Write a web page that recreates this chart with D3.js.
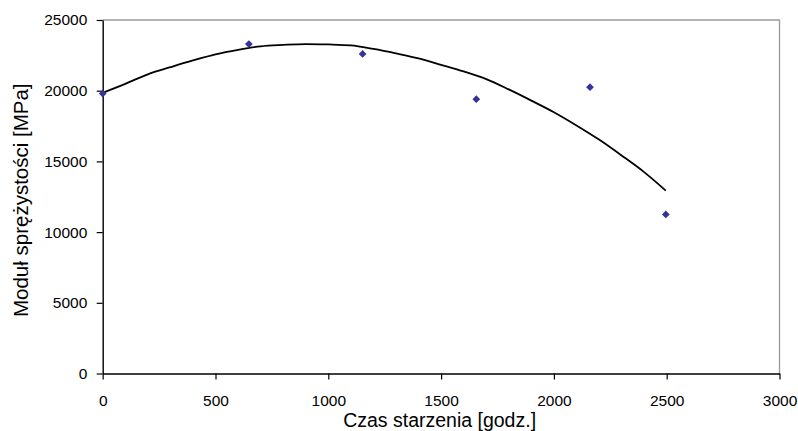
<!DOCTYPE html>
<html>
<head>
<meta charset="utf-8">
<script src="https://cdn.jsdelivr.net/npm/d3@7"></script>
<style>
  html, body { margin: 0; padding: 0; background: #fff; }
  svg text { font-family: "Liberation Sans", Arial, sans-serif; fill: #000; }
</style>
</head>
<body>
<svg id="chart" width="798" height="431"></svg>
<script>
// Measured points: ageing time [h] vs. elastic modulus [MPa]
const measTime = [0, 648, 1152, 1656, 2160, 2496];
const measModulus = [19800, 23300, 22600, 19400, 20250, 11250];

// Trend line sampled along the time axis
const trendTime = [0, 100, 200, 300, 400, 500, 600, 700, 800, 900, 1000, 1100, 1200,
  1300, 1400, 1500, 1600, 1700, 1800, 1900, 2000, 2100, 2200, 2300, 2400, 2496];
const trendModulus = [19850, 20480, 21160, 21660, 22140, 22575, 22895, 23140, 23240, 23300,
  23270, 23200, 22950, 22640, 22290, 21830, 21360, 20820, 20090, 19300, 18475, 17540,
  16540, 15420, 14240, 12930];

// Axis ticks
const xTicks = [0, 500, 1000, 1500, 2000, 2500, 3000];
const yTicks = [0, 5000, 10000, 15000, 20000, 25000];

const xLabel = "Czas starzenia [godz.]";
const yLabel = "Moduł sprężystości [MPa]";

const svg = d3.select("#chart");
const plot = { left: 102.7, right: 779.5, top: 20, bottom: 373.5 };

const x = d3.scaleLinear().domain([0, 3000]).range([plot.left, plot.right]);
const y = d3.scaleLinear().domain([0, 25000]).range([plot.bottom, plot.top]);

// Plot frame: grey top and right edges
svg.append("path")
  .attr("d", `M${plot.left},${plot.top}H${plot.right}V${plot.bottom}`)
  .attr("fill", "none")
  .attr("stroke", "#9a9a9a")
  .attr("stroke-width", 1.3);

// Axes
const xAxis = svg.append("g")
  .attr("transform", `translate(0,${plot.bottom})`)
  .call(d3.axisBottom(x).tickValues(xTicks).tickFormat(d3.format("d"))
    .tickSize(6).tickSizeOuter(0).tickPadding(15.5));
const yAxis = svg.append("g")
  .attr("transform", `translate(${plot.left},0)`)
  .call(d3.axisLeft(y).tickValues(yTicks).tickFormat(d3.format("d"))
    .tickSize(6).tickSizeOuter(0).tickPadding(9.4));

[xAxis, yAxis].forEach(g => {
  g.select(".domain").attr("stroke", "#000").attr("stroke-width", 1.4);
  g.selectAll(".tick line").attr("stroke", "#000").attr("stroke-width", 1.2);
  g.selectAll(".tick text")
    .attr("font-family", '"Liberation Sans", Arial, sans-serif')
    .attr("font-size", 15.5)
    .attr("fill", "#000");
});

// Trend line
const line = d3.line()
  .x((d, i) => x(trendTime[i]))
  .y(d => y(d))
  .curve(d3.curveMonotoneX);
svg.append("path")
  .datum(trendModulus)
  .attr("d", line)
  .attr("fill", "none")
  .attr("stroke", "#000")
  .attr("stroke-width", 1.8)
  .attr("stroke-linejoin", "round");

// Measured points as diamonds
const diamond = d3.symbol().type(d3.symbolDiamond2).size(38);
svg.append("g")
  .selectAll("path")
  .data(measModulus)
  .join("path")
  .attr("d", diamond)
  .attr("transform", (d, i) => `translate(${x(measTime[i])},${y(d)})`)
  .attr("fill", "#333399");

// Axis titles
svg.append("text")
  .attr("x", (plot.left + plot.right) / 2 - 1.5)
  .attr("y", 427)
  .attr("text-anchor", "middle")
  .attr("font-size", 19.5)
  .text(xLabel);

svg.append("text")
  .attr("transform", `translate(28,${(plot.top + plot.bottom) / 2 + 3.5}) rotate(-90)`)
  .attr("text-anchor", "middle")
  .attr("font-size", 20.5)
  .text(yLabel);
</script>
</body>
</html>
